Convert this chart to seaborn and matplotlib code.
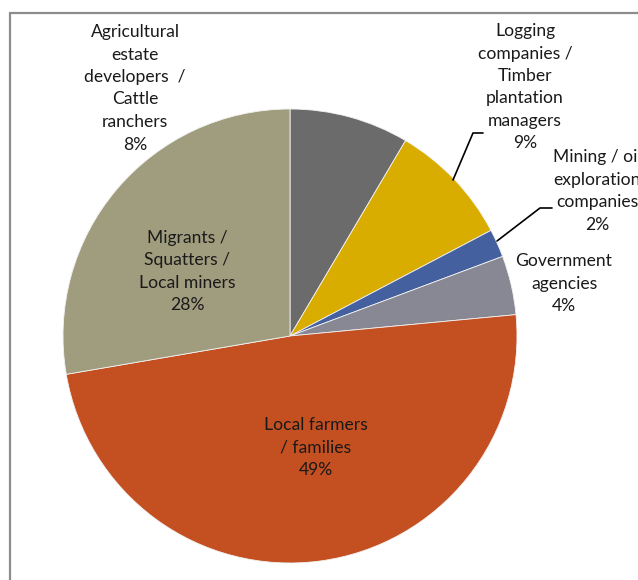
import matplotlib
matplotlib.use("Agg")
import matplotlib.pyplot as plt
import seaborn as sns

categories = [
    "Agricultural\nestate\ndevelopers  /\nCattle\nranchers",
    "Logging\ncompanies /\nTimber\nplantation\nmanagers",
    "Mining / oil\nexploration\ncompanies",
    "Government\nagencies",
    "Local farmers\n/ families",
    "Migrants /\nSquatters /\nLocal miners",
]
shares = [8.5, 8.8, 2.0, 4.2, 48.8, 27.7]
pct_labels = ["8%", "9%", "2%", "4%", "49%", "28%"]
colors = ["#6b6b6b", "#d9ac00", "#44609f", "#878893", "#c44f21", "#a09d7e"]

sns.set_theme(style="white")
plt.rcParams["font.family"] = ["Lato", "DejaVu Sans"]

W, H = 638, 580
fig = plt.figure(figsize=(W / 100, H / 100), dpi=100)
ax = fig.add_axes([0, 0, 1, 1])


def Y(y):
    return H - y


pal = sns.color_palette(colors)
ax.pie(shares, colors=pal, startangle=90, counterclock=False,
       center=(290, Y(336)), radius=227, frame=True,
       wedgeprops=dict(linewidth=0.6, edgecolor="#f2f2f2"))
ax.set_xlim(0, W)
ax.set_ylim(0, H)
ax.set_aspect("equal")
ax.axis("off")

# label layout (text centre x, first line top y)
label_pos = [(135, 24), (525, 23), (597, 149), (564, 253), (316, 417), (187, 230)]
for cat, pct, (x, y) in zip(categories, pct_labels, label_pos):
    ax.text(x, Y(y), cat + "\n" + pct, ha="center", va="top", fontsize=12.6,
            color="#1a1a1a", linespacing=1.5)

# leader lines
ax.plot([453, 473, 483], [Y(180), Y(133), Y(133)], color="black", lw=1.2)
ax.plot([497, 540, 552], [Y(241), Y(208), Y(208)], color="black", lw=1.2)

# chart frame
ax.plot([10, 10], [Y(H + 5), Y(13)], color="#8c8c8c", lw=1.6, clip_on=False)
ax.plot([10, W + 5], [Y(13), Y(13)], color="#8c8c8c", lw=1.6, clip_on=False)

fig.savefig("out.png", dpi=100)
